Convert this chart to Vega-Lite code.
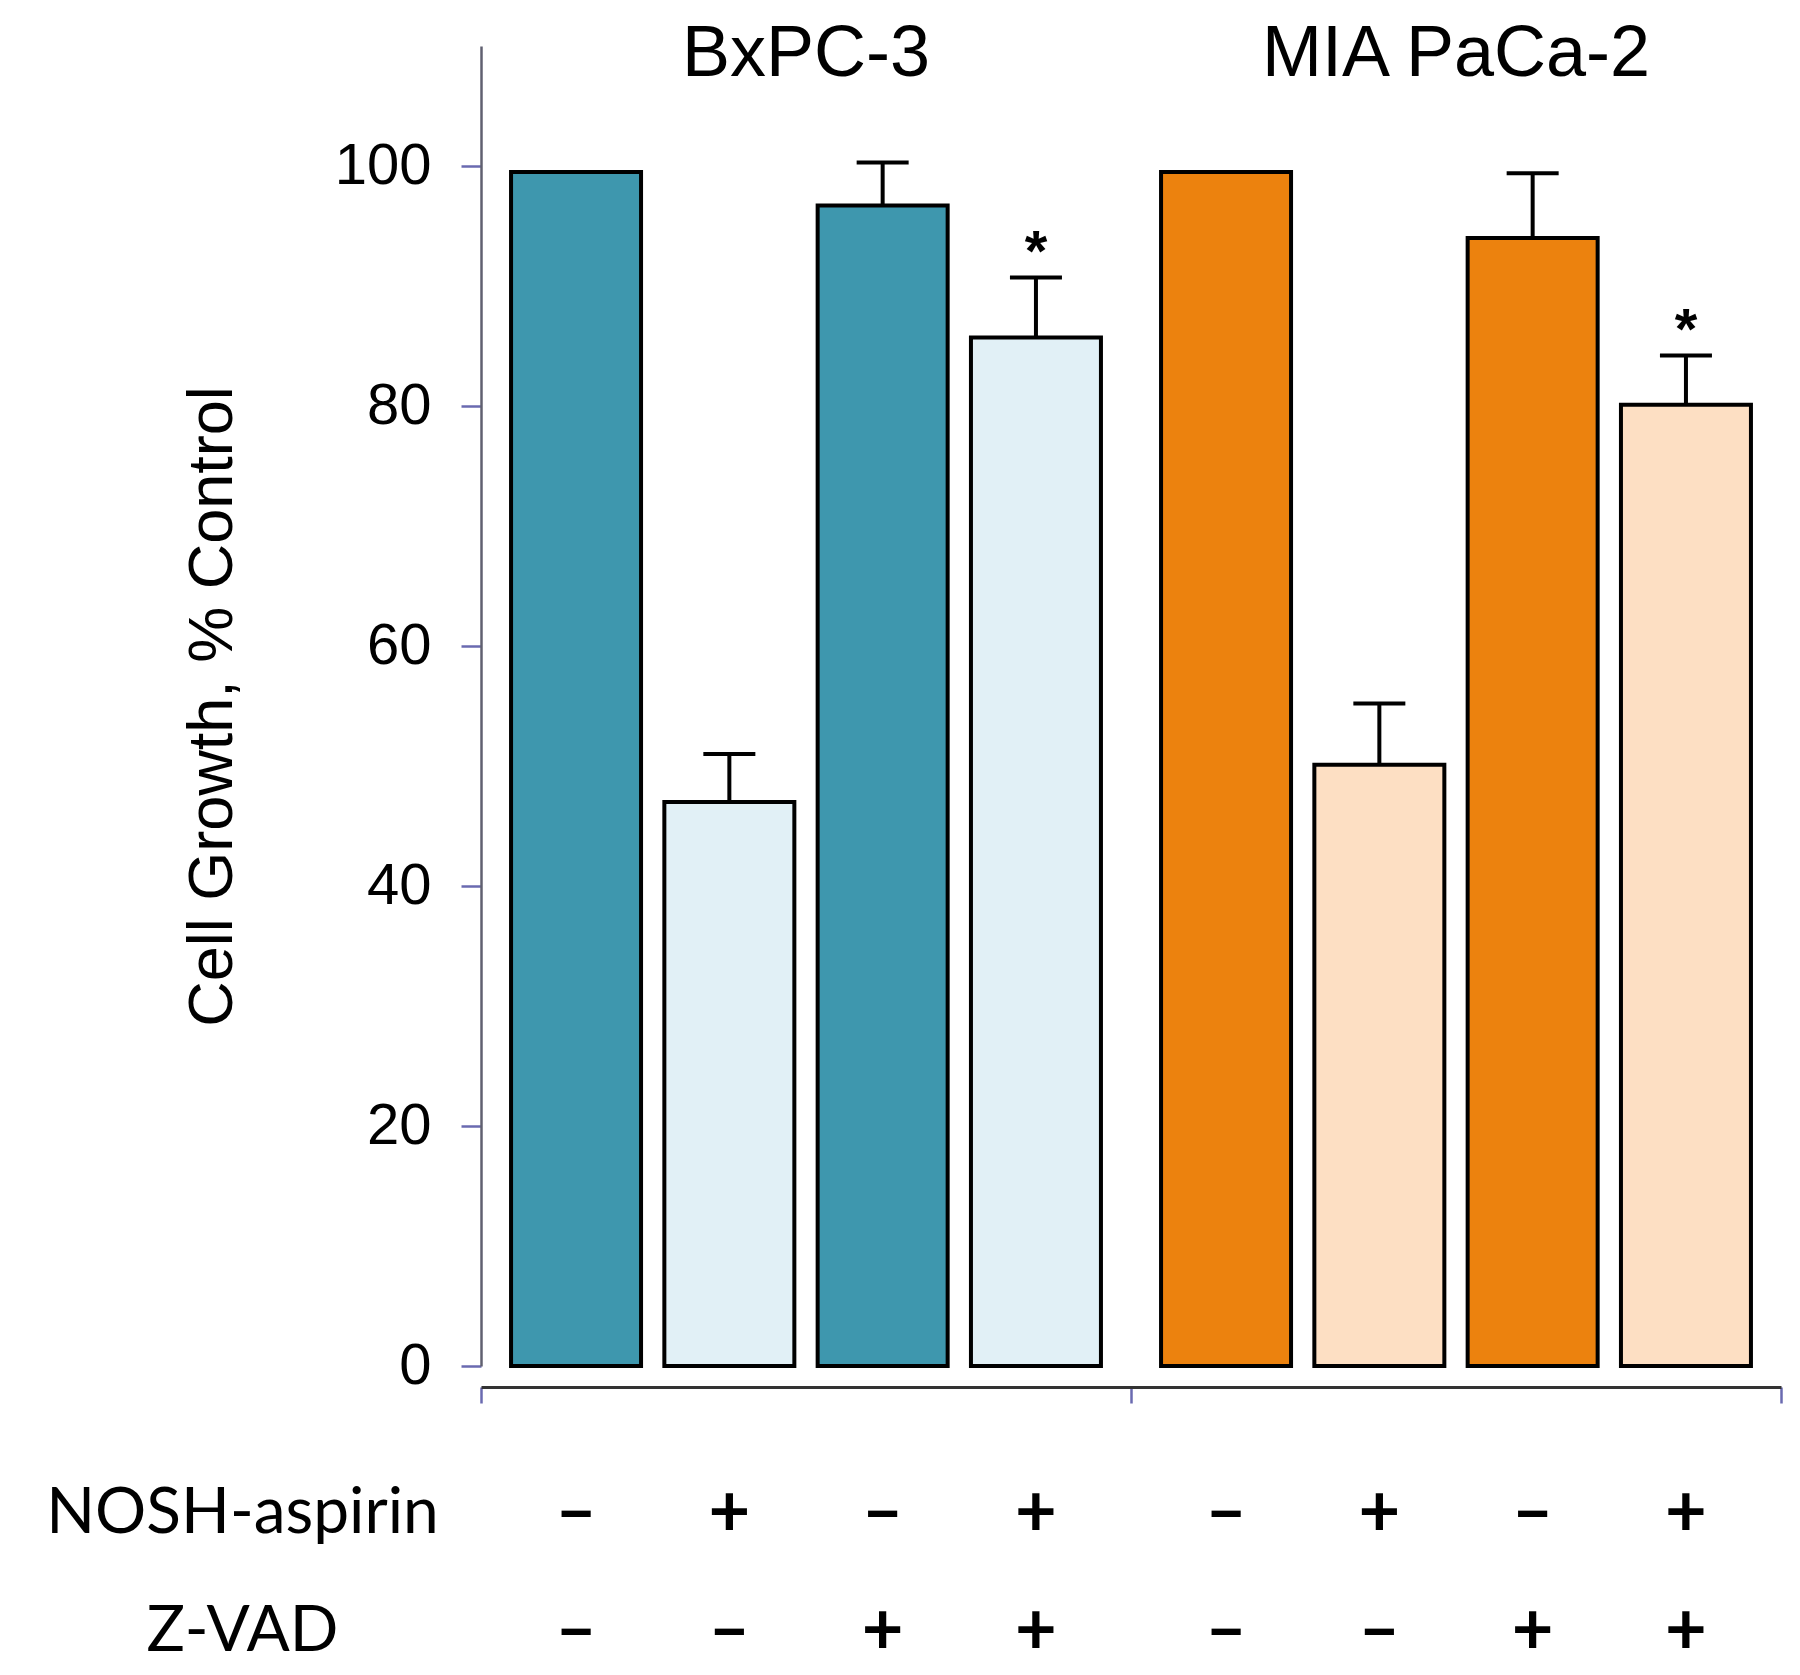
{
  "$schema": "https://vega.github.io/schema/vega-lite/v6.json",
  "background": "white",
  "padding": {"left": 45, "top": 18, "right": 0, "bottom": 0},
  "config": {"view": {"stroke": null}, "font": "Liberation Sans"},
  "data": {"values": [
    {"cell": "BxPC-3", "cond": "1", "NOSH-aspirin": "–", "Z-VAD": "–", "value": 99.5},
    {"cell": "BxPC-3", "cond": "2", "NOSH-aspirin": "+", "Z-VAD": "–", "value": 47.0, "upper": 51.0},
    {"cell": "BxPC-3", "cond": "3", "NOSH-aspirin": "–", "Z-VAD": "+", "value": 96.7, "upper": 100.3},
    {"cell": "BxPC-3", "cond": "4", "NOSH-aspirin": "+", "Z-VAD": "+", "value": 85.7, "upper": 90.7, "star": "*"},
    {"cell": "MIA PaCa-2", "cond": "1", "NOSH-aspirin": "–", "Z-VAD": "–", "value": 99.5},
    {"cell": "MIA PaCa-2", "cond": "2", "NOSH-aspirin": "+", "Z-VAD": "–", "value": 50.1, "upper": 55.2},
    {"cell": "MIA PaCa-2", "cond": "3", "NOSH-aspirin": "–", "Z-VAD": "+", "value": 94.0, "upper": 99.4},
    {"cell": "MIA PaCa-2", "cond": "4", "NOSH-aspirin": "+", "Z-VAD": "+", "value": 80.1, "upper": 84.2, "star": "*"}
  ]},
  "spacing": 72,
  "vconcat": [
    {
      "width": 1300,
      "height": 1320,
      "encoding": {
        "x": {"field": "cell", "type": "nominal", "scale": {"paddingInner": 0, "paddingOuter": 0},
              "axis": {"orient": "bottom", "offset": 21, "labels": false, "title": null, "tickBand": "extent", "tickSize": 16, "tickColor": "#6a6ab0", "tickWidth": 2.5, "domainColor": "#333333", "domainWidth": 3, "grid": false}}
      },
      "layer": [
        {
          "transform": [{"calculate": "datum.cell + ' ' + datum['NOSH-aspirin']", "as": "shade"}],
          "mark": {"type": "bar", "stroke": "#000000", "strokeWidth": 4},
          "encoding": {
            "xOffset": {"field": "cond", "type": "nominal", "scale": {"paddingInner": 0.152, "paddingOuter": 0.196}},
            "y": {"field": "value", "type": "quantitative", "scale": {"domain": [0, 110], "nice": false},
                  "axis": {"values": [0, 20, 40, 60, 80, 100], "labelFontSize": 58, "labelColor": "#000000", "labelPadding": 30, "tickSize": 20, "tickColor": "#6a6ab0", "tickWidth": 2.5, "domainColor": "#606070", "domainWidth": 2.5, "title": "Cell  Growth, % Control", "titleFontSize": 63, "titleFontWeight": "normal", "titleColor": "#000000", "titlePadding": 90, "grid": false, "maxExtent": 400}},
            "color": {"field": "shade", "type": "nominal", "legend": null,
                      "scale": {"domain": ["BxPC-3 –", "BxPC-3 +", "MIA PaCa-2 –", "MIA PaCa-2 +"], "range": ["#3E97AE", "#E1F0F6", "#EC820E", "#FDDFC3"]}}
          }
        },
        {
          "transform": [{"filter": "isValid(datum.upper)"}],
          "mark": {"type": "rule", "strokeWidth": 4, "color": "#000000"},
          "encoding": {
            "xOffset": {"field": "cond", "type": "nominal"},
            "y": {"field": "value", "type": "quantitative"},
            "y2": {"field": "upper"}
          }
        },
        {
          "transform": [{"filter": "isValid(datum.upper)"}],
          "mark": {"type": "tick", "size": 52, "thickness": 4, "color": "#000000", "opacity": 1},
          "encoding": {
            "xOffset": {"field": "cond", "type": "nominal"},
            "y": {"field": "upper", "type": "quantitative"}
          }
        },
        {
          "transform": [{"filter": "datum.star == '*'"}],
          "mark": {"type": "text", "fontSize": 58, "fontWeight": "bold", "baseline": "alphabetic", "dy": -7, "color": "#000000"},
          "encoding": {
            "xOffset": {"field": "cond", "type": "nominal"},
            "y": {"field": "upper", "type": "quantitative"},
            "text": {"field": "star"}
          }
        },
        {
          "data": {"values": [{"cell": "BxPC-3"}, {"cell": "MIA PaCa-2"}]},
          "mark": {"type": "text", "fontSize": 72, "baseline": "middle", "color": "#000000"},
          "encoding": {
            "y": {"datum": 109.3},
            "text": {"field": "cell"}
          }
        }
      ]
    },
    {
      "width": 1300,
      "height": 177,
      "transform": [{"fold": ["NOSH-aspirin", "Z-VAD"], "as": ["row", "sign"]}],
      "mark": {"type": "text", "font": "Lato", "fontSize": 72, "fontWeight": "bold", "baseline": "middle", "color": "#000000"},
      "encoding": {
        "x": {"field": "cell", "type": "nominal", "scale": {"paddingInner": 0, "paddingOuter": 0}, "axis": null},
        "xOffset": {"field": "cond", "type": "nominal", "scale": {"paddingInner": 0.152, "paddingOuter": 0.196}},
        "y": {"field": "row", "type": "nominal", "scale": {"type": "point", "padding": 0.25, "domain": ["NOSH-aspirin", "Z-VAD"]},
              "axis": {"domain": false, "ticks": false, "labelFont": "Lato", "labelFontSize": 64, "labelColor": "#000000", "labelAlign": "center", "labelPadding": 239, "labelLimit": 0, "title": null, "maxExtent": 600}},
        "text": {"field": "sign"}
      }
    }
  ]
}
